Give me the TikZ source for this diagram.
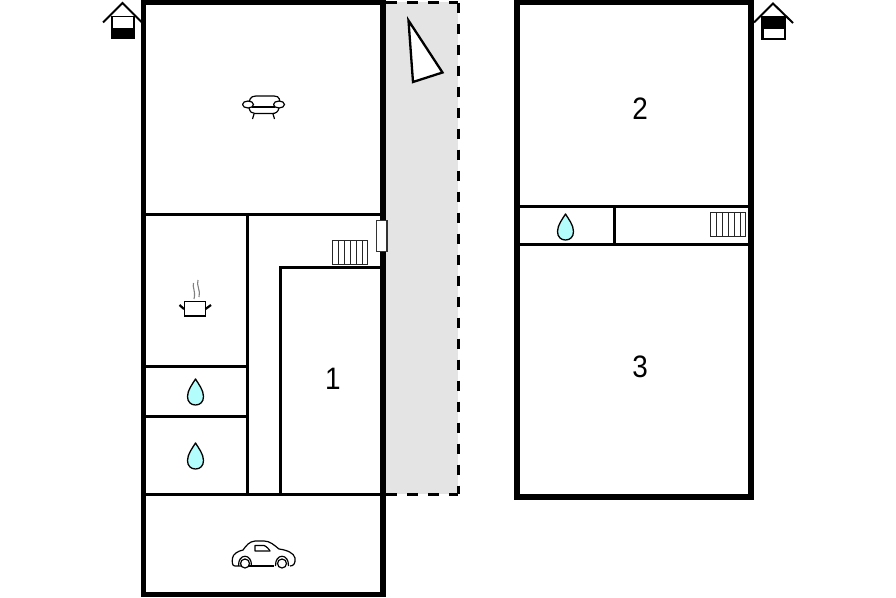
\documentclass[tikz,border=0pt]{standalone}
\usepackage{fontspec}
\setmainfont{Liberation Sans}
\usetikzlibrary{calc}
\definecolor{yard}{RGB}{228,228,228}
\definecolor{water}{RGB}{180,253,253}
\tikzset{
  outerwall/.style={line width=5.2pt,line cap=rect,black},
  innerwall/.style={line width=3pt,black},
  dashwall/.style={line width=3pt,dash pattern=on 10.5pt off 10.5pt,black},
  symbol/.style={line width=1.2pt,black,line join=round},
  roomnum/.style={font=\fontsize{31}{31}\selectfont,inner sep=0pt,xscale=.9},
  pics/drop/.style={code={
    \draw[symbol,fill=water,line width=1.3pt] (0,-13) .. controls (3,-8) and (8,-2) .. (8,4.5)
      .. controls (8,10) and (4.5,13) .. (0,13) .. controls (-4.5,13) and (-8,10) .. (-8,4.5)
      .. controls (-8,-2) and (-3,-8) .. (0,-13) -- cycle;
  }},
  pics/radiator/.style={code={
    \draw[line width=1.3pt,draw=black!85,fill=white] (0,0) rectangle (35,24);
    \foreach \i in {6,12,18,24,30}{\draw[line width=1.3pt,draw=black!85] (\i,0) -- (\i,24);}
  }}
}
\begin{document}
\begin{tikzpicture}[x=1pt,y=-1pt]
\useasboundingbox (0,0) rectangle (896,597);
\fill[white] (0,0) rectangle (896,597);
% yard
\fill[yard] (383,2) rectangle (458,494);
\draw[dashwall] (386,2.5) -- (458,2.5);
\draw[dashwall] (458,2.5) -- (458,494);
\draw[dashwall] (386,494) -- (458,494);
% north arrow
\draw[line width=2.3pt,fill=white,line join=miter] (408.5,20.5) -- (442.5,72.5) -- (413,82) -- cycle;
% left plan inner walls
\draw[innerwall] (144,214) -- (383,214);
\draw[innerwall] (247,214) -- (247,494);
\draw[innerwall] (280,267.5) -- (383,267.5);
\draw[innerwall] (280,266) -- (280,494);
\draw[innerwall] (144,366.5) -- (247,366.5);
\draw[innerwall] (144,416.5) -- (247,416.5);
\draw[innerwall] (144,494) -- (383,494);
\draw[outerwall] (143.5,2.5) rectangle (383,594.5);
% door
\draw[line width=1.2pt,draw=black!80,fill=white] (376.5,220.5) rectangle (387,251.5);
% right plan
\draw[innerwall] (517,206) -- (751,206);
\draw[innerwall] (517,244.5) -- (751,244.5);
\draw[innerwall] (614,206) -- (614,244.5);
\draw[outerwall] (517,2.5) rectangle (751,497);
% radiators
\pic at (332.5,240.5) {radiator};
\pic at (710.5,212.5) {radiator};
% drops
\pic at (195.5,392) {drop};
\pic at (195.5,456) {drop};
\pic at (565.5,227) {drop};
% numbers
\node[roomnum] (r1) at (333,379) {1};
\node[roomnum] (r2) at (640,108.5) {2};
\node[roomnum] (r3) at (640,367) {3};
% left house icon
\fill[black] (111,16) rectangle (134.5,38.5);
\fill[white] (113,17) rectangle (133,27.5);
\draw[line width=2pt,line join=miter] (103,22.5) -- (122.5,3) -- (142,22.5);
% right house icon
\draw[line width=2pt,fill=black] (762,16.5) rectangle (784.5,39);
\fill[white] (763.5,28.5) rectangle (783.5,38);
\draw[line width=2pt,line join=miter] (754,22.5) -- (773,3.5) -- (793,23);
% sofa
\begin{scope}[symbol]
\draw (249,106) .. controls (249,100) and (250,96) .. (256,96) -- (274,96) .. controls (280,96) and (280,100) .. (280,106);
\draw[fill=white] (248,104.5) ellipse (5.5 and 3.5);
\draw[fill=white] (279,104.5) ellipse (5.5 and 3.5);
\draw (252,107) -- (275,107);
\draw (249,108) .. controls (250,112) and (252,113.5) .. (255,113.5) -- (272,113.5) .. controls (276,113.5) and (278,112) .. (279,108);
\draw (254,114) -- (252.5,119);
\draw (273,114) -- (274.5,119);
\end{scope}
% pot
\draw[line width=1.4pt,fill=white] (184.5,301.5) rectangle (205.5,316);
\draw[line width=2.2pt] (184,309) -- (179.5,305);
\draw[line width=2.2pt] (205.5,309) -- (211,305);
\draw[line width=1.1pt,black!50] (193.5,283) .. controls (192,287) and (196,291) .. (194,299);
\draw[line width=1.1pt,black!50] (198,280) .. controls (196,285) and (201,291) .. (199,297);
% car
\begin{scope}[line width=1.2pt,line join=round]
\draw (241,566) -- (235,566) .. controls (232,566) and (232,562) .. (232.5,558) .. controls (233,554) and (238,551) .. (243,550)
  .. controls (246,546) and (249,541.5) .. (255,541) -- (264,541) .. controls (270,541) and (274,545) .. (279,549)
  .. controls (287,550) and (294,553) .. (295,558) .. controls (295.5,563) and (294,566) .. (290,566);
\draw (249,566) -- (274,566);
\draw (238.5,566) .. controls (238,553) and (252,553) .. (251.5,566);
\draw (275.5,566) .. controls (275,553) and (289,553) .. (288.5,566);
\draw (245,563.5) circle (4.5);
\draw (282,563.5) circle (4.5);
\draw (255,545.5) -- (264,545.5) .. controls (266,546) and (269,549) .. (270,551) -- (255,551) -- cycle;
\fill[black!65] (256,549.5) rectangle (269,551);
\end{scope}
\end{tikzpicture}
\end{document}
